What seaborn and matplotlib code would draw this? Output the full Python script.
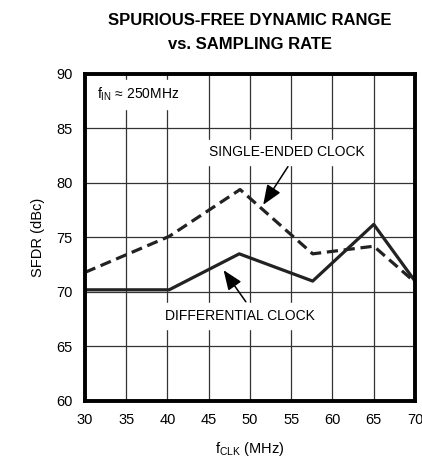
"""SFDR vs. sampling rate, single-ended vs. differential clock."""

import matplotlib
matplotlib.use("Agg")
import matplotlib.pyplot as plt
import pandas as pd
import seaborn as sns

# data
fclk_single = [30, 40.2, 48.8, 57.6, 65.0, 70]
sfdr_single = [71.8, 75.1, 79.4, 73.5, 74.2, 70.9]
fclk_diff = [30, 40.2, 48.7, 57.6, 65.0, 70]
sfdr_diff = [70.2, 70.2, 73.5, 71.0, 76.2, 71.0]
x_ticks = [30, 35, 40, 45, 50, 55, 60, 65, 70]
y_ticks = [60, 65, 70, 75, 80, 85, 90]

df = pd.concat([
    pd.DataFrame({"fclk": fclk_single, "sfdr": sfdr_single, "clock": "single"}),
    pd.DataFrame({"fclk": fclk_diff, "sfdr": sfdr_diff, "clock": "diff"}),
])

sns.set_theme(style="white")
plt.rcParams["font.family"] = ["Liberation Sans", "DejaVu Sans"]
plt.rcParams["text.color"] = "black"

fig = plt.figure(figsize=(4.22, 4.59), dpi=100)
ax = fig.add_axes([0.2014, 0.1264, 0.782, 0.7124])

sns.lineplot(data=df[df.clock == "single"], x="fclk", y="sfdr", ax=ax,
             color="#222222", lw=2.3, linestyle=(0, (3.5, 1.8)), sort=False)
sns.lineplot(data=df[df.clock == "diff"], x="fclk", y="sfdr", ax=ax,
             color="#222222", lw=2.3, sort=False)

ax.set_xlim(30, 70)
ax.set_ylim(60, 90)
ax.set_xticks(x_ticks)
ax.set_yticks(y_ticks)
ax.grid(True, color="#333333", lw=0.9)
ax.set_axisbelow(True)
for s in ax.spines.values():
    s.set_color("black")
    s.set_linewidth(2.8)
ax.tick_params(axis="both", length=0, labelsize=10.5, colors="black", pad=9)

ax.set_xlabel("f$_{\\mathregular{CLK}}$ (MHz)", fontsize=10.5, color="black", labelpad=9)
ax.set_ylabel("SFDR (dBc)", fontsize=10.5, color="black", labelpad=8)

fig.text(0.592, 0.955, "SPURIOUS-FREE DYNAMIC RANGE", ha="center", va="center",
         fontsize=12, fontweight="bold", color="black")
fig.text(0.592, 0.902, "vs. SAMPLING RATE", ha="center", va="center",
         fontsize=12, fontweight="bold", color="black")

ax.text(31.5, 88.1, "f$_{\\mathregular{IN}}$ \u2248 250MHz", fontsize=10,
        ha="left", va="center", backgroundcolor="white")
ax.text(54.5, 82.8, "SINGLE-ENDED CLOCK", fontsize=10, ha="center", va="center",
        backgroundcolor="white")
ax.text(48.8, 67.8, "DIFFERENTIAL CLOCK", fontsize=10, ha="center", va="center",
        backgroundcolor="white")

arrow = dict(arrowstyle="-|>,head_length=1.0,head_width=0.4", color="black", lw=1.1,
             shrinkA=0, shrinkB=0)
ax.annotate("", xy=(51.6, 78.0), xytext=(54.6, 81.5), arrowprops=arrow)
ax.annotate("", xy=(46.8, 72.0), xytext=(49.5, 69.1), arrowprops=arrow)

fig.savefig("out.png", dpi=100)
plt.close(fig)
